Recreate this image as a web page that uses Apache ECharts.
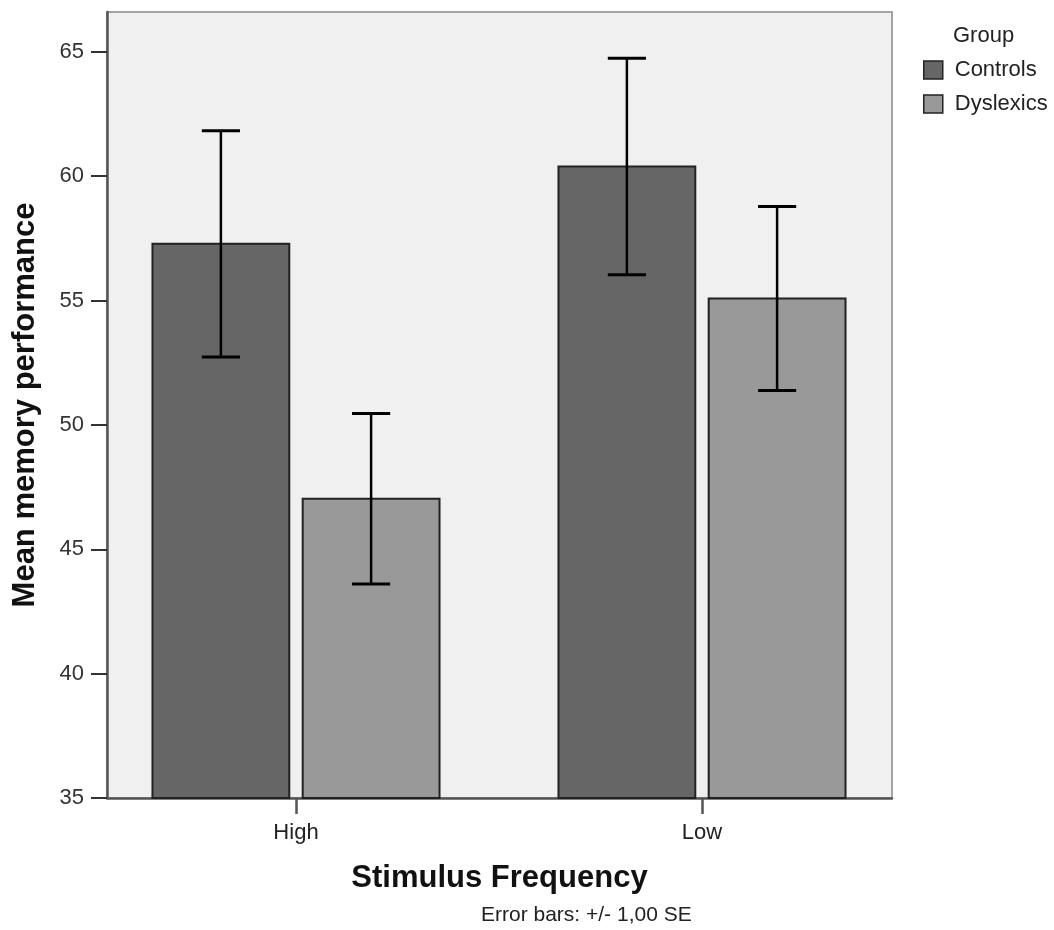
<!DOCTYPE html>
<html>
<head>
<meta charset="utf-8">
<title>Mean memory performance</title>
<script src="https://cdn.jsdelivr.net/npm/echarts@6/dist/echarts.min.js"></script>
<style>
  html, body { margin: 0; padding: 0; background: #fff; }
  #chart { width: 1054px; height: 930px; }
</style>
</head>
<body>
<div id="chart"></div>
<script>
const categories = ['High', 'Low']
const groups = ['Controls', 'Dyslexics']
const controlsMean = [57.28, 60.39]
const controlsSE = [4.55, 4.35]
const dyslexicsMean = [47.03, 55.08]
const dyslexicsSE = [3.43, 3.7]
const yTicks = [35, 40, 45, 50, 55, 60, 65]

const FONT = '"Liberation Sans", Arial, sans-serif'
const BASE = 35
const BAR_W = 0.337 // in category units
const CAP_W = 0.094

const makeRender = (offset, color) => (params, api) => {
  const x = api.value(0)
  const m = api.value(1)
  const se = api.value(2)
  const unit = api.size([1, 0])[0]
  const base = api.coord([x, BASE])
  const cx = base[0] + offset * unit
  const top = api.coord([x, m])[1]
  const hi = api.coord([x, m + se])[1]
  const lo = api.coord([x, m - se])[1]
  const w = BAR_W * unit
  const cw = CAP_W * unit
  const err = { stroke: '#000', lineWidth: 3 }
  return {
    type: 'group',
    children: [
      {
        type: 'rect',
        shape: { x: cx - w / 2, y: top, width: w, height: base[1] - top },
        style: { fill: color, stroke: '#222', lineWidth: 2 }
      },
      { type: 'line', shape: { x1: cx, y1: hi, x2: cx, y2: lo }, style: { stroke: '#000', lineWidth: 2.5 } },
      { type: 'line', shape: { x1: cx - cw / 2, y1: hi, x2: cx + cw / 2, y2: hi }, style: err },
      { type: 'line', shape: { x1: cx - cw / 2, y1: lo, x2: cx + cw / 2, y2: lo }, style: err }
    ]
  }
}

const toData = (means, ses) => means.map((v, i) => [i, v, ses[i]])

const chart = echarts.init(document.getElementById('chart'))
chart.setOption({
  animation: false,
  textStyle: { fontFamily: FONT },
  title: [
    {
      text: 'Group',
      left: 953,
      top: 25,
      padding: 0,
      textStyle: { fontFamily: FONT, fontSize: 22, fontWeight: 'normal', color: '#222' }
    },
    {
      text: 'Error bars: +/- 1,00 SE',
      left: 481,
      top: 905,
      padding: 0,
      textStyle: { fontFamily: FONT, fontSize: 21, fontWeight: 'normal', color: '#222' }
    }
  ],
  legend: {
    data: groups,
    orient: 'vertical',
    left: 918,
    top: 54,
    icon: 'rect',
    itemWidth: 19,
    itemHeight: 18,
    itemGap: 12,
    itemStyle: { borderColor: '#222', borderWidth: 1.5 },
    textStyle: { fontFamily: FONT, fontSize: 22, color: '#222', padding: [0, 0, 0, 7] }
  },
  grid: {
    left: 107,
    right: 162,
    top: 12,
    bottom: 132,
    show: true,
    backgroundColor: '#f0f0f0',
    borderColor: '#888',
    borderWidth: 1.5
  },
  xAxis: {
    type: 'value',
    min: -0.4655,
    max: 1.468,
    name: 'Stimulus Frequency',
    nameLocation: 'middle',
    nameGap: 65,
    nameTextStyle: { fontFamily: FONT, fontSize: 31, fontWeight: 'bold', color: '#111' },
    splitLine: { show: false },
    axisLine: { show: true, onZero: false, lineStyle: { color: '#555', width: 2.5 } },
    axisTick: { show: true, length: 16, customValues: [0, 1], lineStyle: { color: '#555', width: 2.5 } },
    axisLabel: {
      customValues: [0, 1],
      margin: 24,
      fontSize: 22,
      color: '#222',
      formatter: v => categories[Math.round(v)]
    }
  },
  yAxis: {
    type: 'value',
    min: 35,
    max: 66.6,
    name: 'Mean memory performance',
    nameLocation: 'middle',
    nameRotate: 90,
    nameGap: 66,
    nameTextStyle: { fontFamily: FONT, fontSize: 31, fontWeight: 'bold', color: '#111' },
    splitLine: { show: false },
    axisLine: { show: true, onZero: false, lineStyle: { color: '#555', width: 2.5 } },
    axisTick: { show: true, length: 16, customValues: yTicks, lineStyle: { color: '#333', width: 2 } },
    axisLabel: { customValues: yTicks, margin: 23, fontSize: 22, color: '#333' }
  },
  series: [
    {
      name: 'Controls',
      type: 'custom',
      itemStyle: { color: '#666666' },
      renderItem: makeRender(-0.185, '#666666'),
      encode: { x: 0, y: 1 },
      data: toData(controlsMean, controlsSE),
      z: 3
    },
    {
      name: 'Dyslexics',
      type: 'custom',
      itemStyle: { color: '#999999' },
      renderItem: makeRender(0.185, '#999999'),
      encode: { x: 0, y: 1 },
      data: toData(dyslexicsMean, dyslexicsSE),
      z: 3
    }
  ]
})
</script>
</body>
</html>
